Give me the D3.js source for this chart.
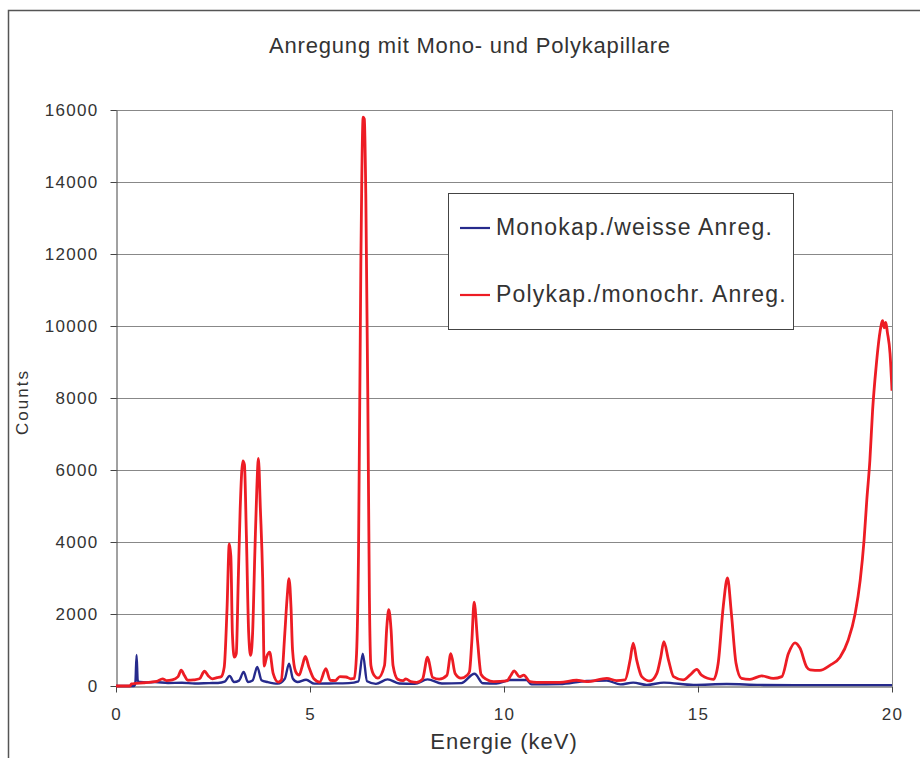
<!DOCTYPE html>
<html>

<head>
    <meta charset="UTF-8">
    <style>
        body {
            margin: 0;
            background: white;
        }

        text {
            font-family: "Liberation Sans", Arial, sans-serif;
            fill: #333;
        }

        .tick text {
            font-size: 17px;
            letter-spacing: 1.3px;
        }

        .grid {
            stroke: #888;
            stroke-width: 1px;
        }
    </style>
</head>

<body>
    <svg width="920" height="758"></svg>
    <script src="https://d3js.org/d3.v7.min.js"></script>

    <script>

        // chart values
        let title = "Anregung mit Mono- und Polykapillare";
        let xTitle = "Energie (keV)";
        let yTitle = "Counts";
        let seriesNames = ["Monokap./weisse Anreg.", "Polykap./monochr. Anreg."];
        let xTicks = [0, 5, 10, 15, 20];
        let yTicks = [0, 2000, 4000, 6000, 8000, 10000, 12000, 14000, 16000];

        // Monokap./weisse Anreg. : [keV, counts]
        let monoData = [
            [0, 0], [0.47, 0], [0.5, 100], [0.53, 860], [0.56, 150], [0.61, 110], [0.8, 100],
            [1.0, 110], [1.34, 85], [1.7, 90], [2.03, 70], [2.4, 80], [2.63, 85], [2.8, 120],
            [2.93, 280], [3.04, 110], [3.17, 150], [3.29, 390], [3.4, 110], [3.52, 150],
            [3.64, 530], [3.75, 160], [3.91, 110], [4.17, 65], [4.35, 200], [4.46, 620],
            [4.56, 200], [4.68, 110], [4.9, 175], [5.11, 65], [5.5, 70], [6.0, 80], [6.25, 130],
            [6.36, 900], [6.47, 130], [6.7, 60], [7.0, 185], [7.3, 70], [7.7, 60], [8.03, 185],
            [8.4, 70], [8.9, 80], [9.24, 340], [9.46, 75], [9.8, 70], [10.15, 165], [10.58, 165],
            [10.71, 45], [11.44, 55], [12.13, 140], [12.65, 150], [13.0, 45], [13.33, 95],
            [13.68, 30], [14.12, 95], [14.88, 30], [15.74, 55], [16.6, 30], [17.5, 25],
            [18.5, 25], [19.5, 25], [20.0, 25]
        ];

        // Polykap./monochr. Anreg. : [keV, counts]
        let polyData = [
            [0, 0], [0.36, 0], [0.40, 60], [0.5, 70], [0.7, 90], [0.9, 110], [1.05, 130],
            [1.2, 200], [1.3, 150], [1.45, 170], [1.6, 260], [1.68, 440], [1.76, 300],
            [1.85, 160], [2.0, 170], [2.15, 200], [2.28, 410], [2.38, 280], [2.48, 200],
            [2.6, 230], [2.71, 260], [2.79, 530], [2.86, 2100], [2.92, 3950], [2.96, 3600],
            [3.0, 1450], [3.05, 800], [3.1, 900], [3.15, 2900], [3.2, 4900], [3.27, 6250],
            [3.31, 6150], [3.36, 4200], [3.42, 1450], [3.47, 850], [3.52, 1450], [3.58, 3750],
            [3.63, 5500], [3.67, 6320], [3.72, 4950], [3.78, 3000], [3.82, 550], [3.88, 800],
            [3.96, 940], [4.05, 350], [4.18, 110], [4.26, 160], [4.35, 1450], [4.41, 2450],
            [4.46, 2980], [4.51, 2200], [4.55, 1000], [4.63, 400], [4.72, 300], [4.8, 550],
            [4.88, 820], [4.97, 530], [5.1, 200], [5.25, 110], [5.41, 480], [5.52, 160],
            [5.65, 150], [5.77, 260], [5.93, 250], [6.05, 200], [6.14, 210], [6.2, 900],
            [6.25, 3650], [6.31, 11650], [6.37, 15800], [6.40, 15750], [6.44, 13500],
            [6.49, 8000], [6.53, 2550], [6.57, 570], [6.65, 300], [6.75, 220], [6.92, 570],
            [6.98, 1650], [7.03, 2120], [7.09, 1550], [7.14, 570], [7.26, 190], [7.4, 150],
            [7.47, 200], [7.6, 120], [7.75, 100], [7.9, 190], [8.03, 800], [8.16, 240],
            [8.33, 190], [8.53, 300], [8.63, 900], [8.74, 350], [8.89, 220], [9.05, 300],
            [9.11, 400], [9.17, 1230], [9.23, 2330], [9.32, 1230], [9.41, 320], [9.55, 185],
            [9.73, 120], [10.07, 140], [10.18, 300], [10.26, 420], [10.4, 260], [10.51, 300],
            [10.67, 120], [10.84, 100], [11.44, 100], [11.87, 160], [12.13, 120], [12.65, 210],
            [12.9, 150], [13.12, 170], [13.25, 720], [13.33, 1190], [13.42, 720], [13.55, 260],
            [13.76, 140], [13.94, 350], [14.04, 800], [14.12, 1230], [14.24, 720], [14.37, 260],
            [14.62, 170], [14.79, 300], [14.97, 460], [15.09, 300], [15.4, 185], [15.52, 630],
            [15.65, 2200], [15.76, 3000], [15.86, 2020], [15.98, 630], [16.12, 210],
            [16.34, 185], [16.64, 280], [16.94, 210], [17.16, 260], [17.33, 900], [17.5, 1200],
            [17.63, 1050], [17.8, 530], [17.89, 450], [18.14, 435], [18.4, 575], [18.66, 800],
            [18.87, 1270], [19.05, 2010], [19.18, 2935], [19.28, 4050], [19.35, 5160],
            [19.43, 6270], [19.5, 7660], [19.59, 8860], [19.69, 9830], [19.76, 10150],
            [19.8, 9950], [19.84, 10100], [19.88, 9830], [19.95, 9230], [20.0, 8200]
        ];

        let colors = ["#262a8c", "#ed1c24"];

        let width = 920, height = 758;
        let margin = { top: 110, right: 28, bottom: 72, left: 116 };

        let svg = d3.select("svg")
            .attr("viewBox", "0 0 " + width + " " + height);

        // outer chart frame (cut off on the right and bottom like the original)
        svg.append("rect")
            .attr("x", 8.5)
            .attr("y", 10.5)
            .attr("width", 1000)
            .attr("height", 1000)
            .attr("fill", "none")
            .attr("stroke", "#555")
            .attr("stroke-width", 1.5);

        let x = d3.scaleLinear()
            .domain([0, 20])
            .range([margin.left, width - margin.right]);

        let y = d3.scaleLinear()
            .domain([0, 16000])
            .range([height - margin.bottom, margin.top]);

        // horizontal gridlines
        svg.append("g")
            .selectAll("line")
            .data(yTicks.filter(d => d > 0))
            .enter()
            .append("line")
            .attr("class", "grid")
            .attr("x1", x(0))
            .attr("x2", x(20))
            .attr("y1", d => Math.round(y(d)) + 0.5)
            .attr("y2", d => Math.round(y(d)) + 0.5);

        // right border of plot area
        svg.append("line")
            .attr("class", "grid")
            .attr("x1", Math.round(x(20)) + 0.5)
            .attr("x2", Math.round(x(20)) + 0.5)
            .attr("y1", y(16000))
            .attr("y2", y(0));

        let yAxis = d3.axisLeft(y)
            .tickValues(yTicks)
            .tickFormat(d3.format("d"))
            .tickSize(6)
            .tickSizeOuter(0)
            .tickPadding(12);

        let xAxis = d3.axisBottom(x)
            .tickValues(xTicks)
            .tickFormat(d3.format("d"))
            .tickSize(6)
            .tickSizeOuter(0)
            .tickPadding(15);

        let gy = svg.append("g")
            .attr("transform", "translate(" + (Math.round(x(0)) + 0.5) + ",0)")
            .call(yAxis);

        let gx = svg.append("g")
            .attr("transform", "translate(0," + (Math.round(y(0)) + 0.5) + ")")
            .call(xAxis);

        [gx, gy].forEach(g => {
            g.select(".domain").attr("stroke", "#444");
            g.selectAll(".tick line").attr("stroke", "#444");
            g.selectAll(".tick text").attr("fill", "#333");
        });

        svg.append("clipPath")
            .attr("id", "plotClip")
            .append("rect")
            .attr("x", x(0))
            .attr("y", 0)
            .attr("width", x(20) - x(0))
            .attr("height", y(0) + 2);

        let line = d3.line()
            .curve(d3.curveMonotoneX)
            .x(d => x(d[0]))
            .y(d => y(d[1]));

        let plot = svg.append("g").attr("clip-path", "url(#plotClip)");

        plot.selectAll("path")
            .data([monoData, polyData])
            .enter()
            .append("path")
            .attr("d", line)
            .attr("fill", "none")
            .attr("stroke", (d, i) => colors[i])
            .attr("stroke-width", (d, i) => i == 0 ? 2.4 : 2.8)
            .attr("stroke-linejoin", "round");

        // titles
        svg.append("text")
            .attr("x", 470)
            .attr("y", 53)
            .attr("text-anchor", "middle")
            .style("font-size", "22px")
            .style("letter-spacing", "0.8px")
            .text(title);

        svg.append("text")
            .attr("x", x(10))
            .attr("y", 749)
            .attr("text-anchor", "middle")
            .style("font-size", "22px")
            .style("letter-spacing", "1px")
            .text(xTitle);

        svg.append("text")
            .attr("transform", "translate(28,402) rotate(-90)")
            .attr("text-anchor", "middle")
            .style("font-size", "17px")
            .style("letter-spacing", "2px")
            .text(yTitle);

        // legend
        let legend = svg.append("g").attr("transform", "translate(448,193)");

        legend.append("rect")
            .attr("x", 0.5)
            .attr("y", 0.5)
            .attr("width", 345)
            .attr("height", 136)
            .attr("fill", "white")
            .attr("stroke", "#444")
            .attr("stroke-width", 1);

        let items = legend.selectAll(".item")
            .data(seriesNames)
            .enter()
            .append("g")
            .attr("class", "item")
            .attr("transform", (d, i) => "translate(0," + (35 + i * 67) + ")");

        items.append("line")
            .attr("x1", 12)
            .attr("x2", 42)
            .attr("stroke", (d, i) => colors[i])
            .attr("stroke-width", 2.2);

        items.append("text")
            .attr("x", 48)
            .attr("y", 7)
            .style("font-size", "23px")
            .style("letter-spacing", "1.2px")
            .text(d => d);

    </script>

</body>

</html>
